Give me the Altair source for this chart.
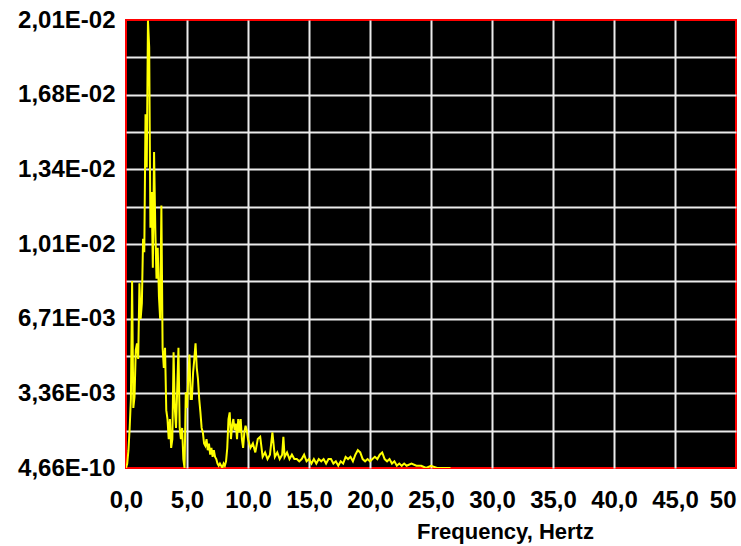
import json
import altair as alt
import pandas as pd

# Frequency (Hz) and spectral amplitude
freq = [0.0, 0.1, 0.2, 0.3, 0.4, 0.5, 0.6, 0.7, 0.8, 0.9,
        1.0, 1.1, 1.2, 1.3, 1.4, 1.5, 1.6, 1.7, 1.8, 1.9,
        2.0, 2.1, 2.2, 2.3, 2.4, 2.5, 2.6, 2.7, 2.8, 2.9,
        3.0, 3.1, 3.2, 3.3, 3.4, 3.5, 3.6, 3.7, 3.8, 3.9,
        4.0, 4.1, 4.2, 4.3, 4.4, 4.5, 4.6, 4.7, 4.8, 4.9,
        5.0, 5.1, 5.2, 5.3, 5.4, 5.5, 5.6, 5.7, 5.8, 5.9,
        6.0, 6.1, 6.2, 6.3, 6.4, 6.5, 6.6, 6.7, 6.8, 6.9,
        7.0, 7.1, 7.2, 7.3, 7.4, 7.5, 7.6, 7.7, 7.8, 7.9,
        8.0, 8.1, 8.2, 8.3, 8.4, 8.5, 8.6, 8.7, 8.8, 8.9,
        9.0, 9.1, 9.2, 9.3, 9.4, 9.5, 9.6, 9.7, 9.8, 9.9,
        10.0, 10.2, 10.4, 10.6, 10.8, 11.0, 11.2, 11.4, 11.6, 11.8,
        12.0, 12.2, 12.4, 12.6, 12.8, 12.9, 13.0, 13.2, 13.4, 13.6,
        13.8, 14.0, 14.2, 14.4, 14.6, 14.8, 15.0, 15.2, 15.4, 15.6,
        15.8, 16.0, 16.2, 16.4, 16.6, 16.8, 17.0, 17.2, 17.4, 17.6,
        17.8, 18.0, 18.2, 18.4, 18.6, 18.8, 19.0, 19.2, 19.4, 19.6,
        19.8, 20.0, 20.2, 20.4, 20.6, 20.8, 21.0, 21.2, 21.4, 21.6,
        21.8, 22.0, 22.2, 22.4, 22.6, 22.8, 23.0, 23.4, 23.8, 24.2,
        24.6, 25.0, 25.5, 26.0, 26.6]

amp = [0.0000, 0.0002, 0.0008, 0.0018, 0.0031, 0.0084, 0.0027, 0.0032, 0.0053, 0.0056,
       0.0049, 0.0083, 0.0067, 0.0074, 0.0103, 0.0097, 0.0159, 0.0135, 0.0201, 0.0189,
       0.0108, 0.0124, 0.0090, 0.0142, 0.0108, 0.0085, 0.0099, 0.0077, 0.0067, 0.0118,
       0.0054, 0.0045, 0.0054, 0.0026, 0.0022, 0.0013, 0.0022, 0.0009, 0.0013, 0.0052,
       0.0027, 0.0018, 0.0036, 0.0054, 0.0018, 0.0013, 0.0018, 0.0004, 0.0000, 0.0034,
       0.0027, 0.0040, 0.0051, 0.0031, 0.0031, 0.0043, 0.0049, 0.0056, 0.0045, 0.0040,
       0.0031, 0.0025, 0.0018, 0.0016, 0.0011, 0.0010, 0.0013, 0.0008, 0.0011, 0.0006,
       0.0009, 0.0005, 0.0008, 0.0005, 0.0004, 0.0002, 0.0001, 0.0002, 0.0001, 0.0000,
       0.0002, 0.0001, 0.0003, 0.0009, 0.0022, 0.0025, 0.0013, 0.0019, 0.0022, 0.0017,
       0.0020, 0.0013, 0.0022, 0.0016, 0.0022, 0.0013, 0.0009, 0.0016, 0.0019, 0.0017,
       0.0013, 0.0009, 0.0011, 0.0007, 0.0013, 0.0014, 0.0005, 0.0007, 0.0004, 0.0006,
       0.0016, 0.0005, 0.0007, 0.0004, 0.0006, 0.0014, 0.0005, 0.0007, 0.0004, 0.0006,
       0.0004, 0.0004, 0.0003, 0.0004, 0.0006, 0.0003, 0.0004, 0.0002, 0.0004, 0.0002,
       0.0004, 0.0003, 0.0004, 0.0002, 0.0004, 0.0004, 0.0002, 0.0003, 0.0001, 0.0003,
       0.0002, 0.0005, 0.0004, 0.0005, 0.0003, 0.0006, 0.0008, 0.0007, 0.0004, 0.0003,
       0.0004, 0.0003, 0.0004, 0.0005, 0.0004, 0.0006, 0.0007, 0.0004, 0.0003, 0.0004,
       0.0002, 0.0003, 0.0001, 0.0002, 0.0001, 0.0002, 0.0001, 0.0002, 0.0001, 0.0001,
       0.0000, 0.0001, 0.0000, 0.0000, 0.0000]

x_ticks = [0, 5, 10, 15, 20, 25, 30, 35, 40, 45, 50]
x_tick_labels = ["0,0", "5,0", "10,0", "15,0", "20,0", "25,0", "30,0",
                 "35,0", "40,0", "45,0", "50"]
y_ticks = [0.0, 0.0016775, 0.003355, 0.0050325, 0.00671, 0.0083875, 0.010065,
           0.0117425, 0.01342, 0.0150975, 0.016775, 0.0184525, 0.02013]
y_tick_labels = ["4,66E-10", "", "3,36E-03", "", "6,71E-03", "", "1,01E-02",
                 "", "1,34E-02", "", "1,68E-02", "", "2,01E-02"]
x_title = "Frequency, Hertz"

df = pd.DataFrame({"f": freq, "a": amp})

x_step = x_ticks[1]
y_step = y_ticks[1]
x_label_expr = json.dumps(x_tick_labels) + "[round(datum.value / %s)]" % x_step
y_label_expr = json.dumps(y_tick_labels) + "[round(datum.value / %s)]" % y_step

FONT = "Liberation Sans"
GRID = "#ebebeb"

x_axis = alt.Axis(
    values=x_ticks,
    labelExpr=x_label_expr,
    title=x_title,
    grid=True,
    gridColor=GRID,
    gridWidth=2,
    gridOpacity={"condition": {"test": "datum.value == 0 || datum.value == 50", "value": 0}, "value": 1},
    ticks=False,
    domain=False,
    labelFont=FONT,
    labelFontSize=24,
    labelFontWeight="bold",
    labelColor="#000000",
    labelPadding=20,
    labelBaseline="top",
    labelAlign={"condition": {"test": "datum.value == 50", "value": "right"}, "value": "center"},
    labelFlush=False,
    labelOverlap=False,
    titleFont=FONT,
    titleFontSize=22,
    titleFontWeight="bold",
    titleColor="#000000",
    titleX=379,
    titleY=70,
    titleAlign="center",
    titleBaseline="alphabetic",
)

y_axis = alt.Axis(
    values=y_ticks,
    labelExpr=y_label_expr,
    title=None,
    grid=True,
    gridColor=GRID,
    gridWidth=2,
    gridOpacity={"condition": {"test": "datum.value == 0 || datum.value > 0.02", "value": 0}, "value": 1},
    ticks=False,
    domain=False,
    labelFont=FONT,
    labelFontSize=24,
    labelFontWeight="bold",
    labelColor="#000000",
    labelPadding=11,
    labelBaseline="middle",
    labelFlush=False,
    labelOverlap=False,
)

chart = (
    alt.Chart(df)
    .mark_line(color="#ffff00", strokeWidth=2, clip=True)
    .encode(
        x=alt.X("f:Q", scale=alt.Scale(domain=[0, 50], nice=False, zero=False), axis=x_axis),
        y=alt.Y("a:Q", scale=alt.Scale(domain=[0, 0.02013], nice=False, zero=False), axis=y_axis),
    )
    .properties(
        width=610,
        height=448,
        autosize=alt.AutoSizeParams(type="none"),
        padding={"left": 126, "top": 20, "right": 5, "bottom": 78},
        background="#ffffff",
    )
    .configure_view(fill="#000000", stroke="#ff0000", strokeWidth=2)
)

chart.save("out.html", embed_options={"renderer": "svg", "actions": False})
